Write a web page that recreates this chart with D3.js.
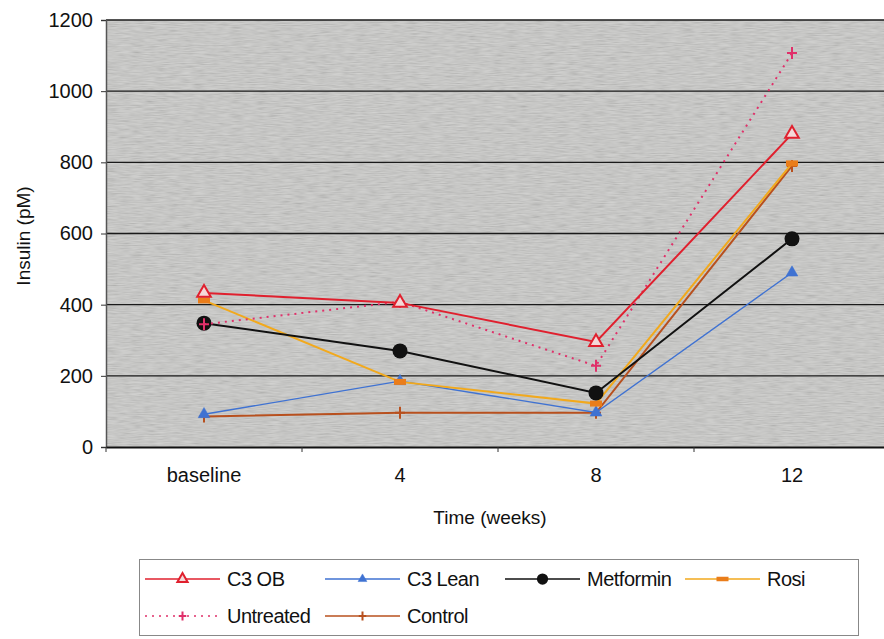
<!DOCTYPE html>
<html>
<head>
<meta charset="utf-8">
<script src="https://cdn.jsdelivr.net/npm/d3@7"></script>
<style>
  body { margin: 0; background: #ffffff; }
  svg text { font-family: "Liberation Sans", Arial, sans-serif; fill: #111; }
</style>
</head>
<body>
<svg id="drawing_region"></svg>
<script>
// categories on the x axis
const categories = ["baseline", "4", "8", "12"];
const yTicks = [0, 200, 400, 600, 800, 1000, 1200];

// series values (insulin, pM)
const c3ob      = [433, 405, 295, 880];
const c3lean    = [92, 185, 97, 490];
const metformin = [348, 270, 152, 585];
const rosi      = [412, 183, 122, 797];
const untreated = [345, 408, 228, 1107];
const control   = [86, 96, 96, 790];

const seriesNames = ["C3 OB", "C3 Lean", "Metformin", "Rosi", "Untreated", "Control"];
const seriesValues = [c3ob, c3lean, metformin, rosi, untreated, control];

const styles = {
    "C3 OB":     {color: '#e0202e', width: 2,   dash: null,  marker: 'tri-open'},
    "C3 Lean":   {color: '#3f72d2', width: 1.3, dash: null,  marker: 'tri'},
    "Metformin": {color: '#111111', width: 2,   dash: null,  marker: 'circle'},
    "Rosi":      {color: '#f2a91c', width: 2,   dash: null,  marker: 'bar'},
    "Untreated": {color: '#e0306a', width: 2,   dash: '2,5', marker: 'plus'},
    "Control":   {color: '#b8501e', width: 2,   dash: null,  marker: 'plus'}
};

class LineChart {

    constructor( config, data ) {
        this.config = config;
        this.data = data;
        this.init();
    }

    init() {
        let self = this;

        self.svg = d3.select( self.config.parent )
            .attr('width', self.config.width)
            .attr('height', self.config.height);

        // grainy grey like the scanned plot area
        const filter = self.svg.append('defs').append('filter')
            .attr('id', 'grain')
            .attr('x', 0).attr('y', 0).attr('width', 1).attr('height', 1);
        filter.append('feTurbulence')
            .attr('type', 'fractalNoise')
            .attr('baseFrequency', '0.08 0.9')
            .attr('numOctaves', 2)
            .attr('seed', 4);
        filter.append('feColorMatrix')
            .attr('type', 'matrix')
            .attr('values', '1 0 0 0 0  1 0 0 0 0  1 0 0 0 0  0 0 0 0 0.22');

        self.chart = self.svg.append('g')
            .attr('transform', `translate(${self.config.margin.left}, ${self.config.margin.top})`);

        self.inner_width = self.config.inner_width;
        self.inner_height = self.config.inner_height;

        self.xscale = d3.scaleBand()
            .domain( categories )
            .range( [0, self.inner_width] );

        self.yscale = d3.scaleLinear()
            .domain( [0, 1200] )
            .range( [self.inner_height, 0] );

        // plot background
        self.chart.append('rect')
            .attr('width', self.inner_width)
            .attr('height', self.inner_height)
            .attr('fill', '#c9c9c7');
        self.chart.append('rect')
            .attr('width', self.inner_width)
            .attr('height', self.inner_height)
            .attr('filter', 'url(#grain)');

        // grid lines
        self.chart.append('g')
            .selectAll('line')
            .data(yTicks.filter(d => d > 0))
            .join('line')
            .attr('x1', 0)
            .attr('x2', self.inner_width)
            .attr('y1', d => self.yscale(d))
            .attr('y2', d => self.yscale(d))
            .attr('stroke', '#1a1a1a')
            .attr('stroke-width', 1.3);

        // y axis
        self.yaxis_group = self.chart.append('g')
            .call( d3.axisLeft(self.yscale).tickValues(yTicks).tickFormat(d3.format('d'))
                .tickSize(5).tickPadding(8) );
        self.yaxis_group.select('.domain').attr('stroke', '#555').attr('stroke-width', 1.5);
        self.yaxis_group.selectAll('.tick line').attr('stroke', '#333');
        self.yaxis_group.selectAll('text')
            .style('font-size', '20px')
            .attr('fill', '#111');

        // x axis: labels at the centre, ticks between categories
        self.xaxis_group = self.chart.append('g')
            .attr('transform', `translate(0, ${self.inner_height})`)
            .call( d3.axisBottom(self.xscale).tickSize(0).tickPadding(21) );
        self.xaxis_group.select('.domain').attr('stroke', '#111').attr('stroke-width', 2);
        self.xaxis_group.selectAll('text')
            .style('font-size', '20px')
            .attr('fill', '#111');
        self.xaxis_group.append('g')
            .selectAll('line')
            .data(categories)
            .join('line')
            .attr('x1', d => self.xscale(d))
            .attr('x2', d => self.xscale(d))
            .attr('y1', 0)
            .attr('y2', 5)
            .attr('stroke', '#333');

        // axis titles
        self.svg.append('text')
            .attr('x', 490)
            .attr('y', 524)
            .attr('text-anchor', 'middle')
            .style('font-size', '19px')
            .text('Time (weeks)');

        self.svg.append('text')
            .attr('transform', 'rotate(-90)')
            .attr('x', -236)
            .attr('y', 30)
            .attr('text-anchor', 'middle')
            .style('font-size', '19px')
            .text('Insulin (pM)');
    }

    marker( g, type, color, small ) {
        const k = small ? 0.75 : 1;
        if (type === 'tri-open' || type === 'tri') {
            g.append('path')
                .attr('d', d3.symbol(d3.symbolTriangle, (type === 'tri' ? 60 : 80) * k * k)())
                .attr('fill', type === 'tri' ? color : '#f4d8d8')
                .attr('stroke', color)
                .attr('stroke-width', type === 'tri' ? 0.5 : 2);
        } else if (type === 'circle') {
            g.append('circle').attr('r', 7.5 * k).attr('fill', color);
        } else if (type === 'bar') {
            g.append('rect')
                .attr('x', -6).attr('y', -3 * k)
                .attr('width', 12).attr('height', 6 * k)
                .attr('fill', '#ea7d1a');
        } else if (type === 'plus') {
            g.append('path')
                .attr('d', `M${-5 * k},0H${5 * k}M0,${-6 * k}V${6 * k}`)
                .attr('stroke', color)
                .attr('stroke-width', 2);
        }
    }

    render() {
        let self = this;
        const cx = c => self.xscale(c) + self.xscale.bandwidth() / 2;

        const line = d3.line()
            .x(d => cx(d.cat))
            .y(d => self.yscale(d.value));

        // draw in an order so that overlaps resemble the picture
        const order = ["Control", "C3 Lean", "Rosi", "Metformin", "Untreated", "C3 OB"];
        order.forEach( name => {
            const s = self.data.find(d => d.name === name);
            const st = styles[name];
            self.chart.append('path')
                .datum(s.points)
                .attr('d', line)
                .attr('fill', 'none')
                .attr('stroke', st.color)
                .attr('stroke-width', st.width)
                .attr('stroke-dasharray', st.dash);

            self.chart.append('g')
                .selectAll('g')
                .data(s.points)
                .join('g')
                .attr('transform', d => `translate(${cx(d.cat)}, ${self.yscale(d.value)})`)
                .each(function() { self.marker(d3.select(this), st.marker, st.color, false); });
        });

        // legend
        const legend = self.svg.append('g');
        legend.append('rect')
            .attr('x', 139.5).attr('y', 559.5)
            .attr('width', 719).attr('height', 76)
            .attr('fill', 'none')
            .attr('stroke', '#888')
            .attr('stroke-width', 1);

        const pos = [[145, 579], [325, 579], [505, 579], [685, 579], [145, 616], [325, 616]];
        seriesNames.forEach( (name, i) => {
            const st = styles[name];
            const [x, y] = pos[i];
            const item = legend.append('g').attr('transform', `translate(${x}, ${y})`);
            item.append('line')
                .attr('x1', 0).attr('x2', 75)
                .attr('stroke', st.color)
                .attr('stroke-width', name === 'C3 Lean' ? 1.3 : 1.6)
                .attr('stroke-dasharray', st.dash);
            const m = item.append('g').attr('transform', 'translate(37.5, 0)');
            self.marker(m, st.marker, st.color, true);
            item.append('text')
                .attr('x', 82)
                .attr('y', 7)
                .style('font-size', '20px')
                .style('letter-spacing', '-0.5px')
                .text(name);
        });
    }
}

const data = seriesNames.map( (name, i) => ({
    name: name,
    points: categories.map( (c, j) => ({cat: c, value: seriesValues[i][j]}) )
}));

const config = {
    parent: '#drawing_region',
    width: 884,
    height: 639,
    margin: {top: 20, left: 106},
    inner_width: 784,
    inner_height: 427
};

let chart = new LineChart( config, data );
chart.render();
</script>
</body>
</html>
